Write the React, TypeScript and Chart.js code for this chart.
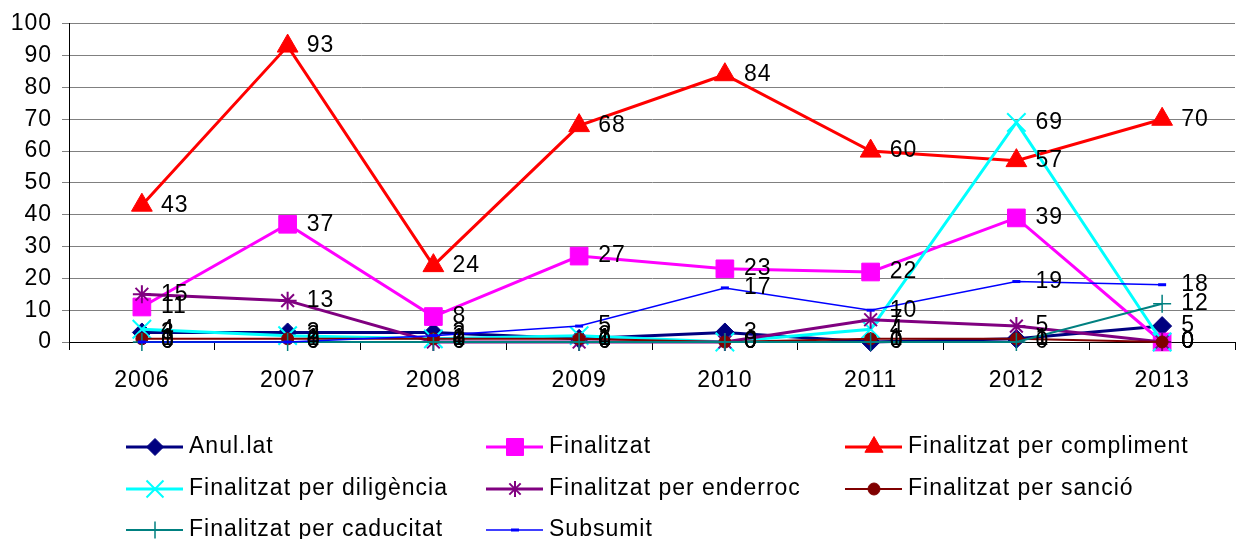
import React, { useEffect, useRef } from 'react';
import { Chart, registerables } from 'chart.js';
import { drawPoint } from 'chart.js/helpers';

Chart.register(...registerables);

const years = ['2006', '2007', '2008', '2009', '2010', '2011', '2012', '2013'];
const yTicks = [0, 10, 20, 30, 40, 50, 60, 70, 80, 90, 100];

const anulLat = [3, 3, 3, 1, 3, 0, 1, 5];
const finalitzat = [11, 37, 8, 27, 23, 22, 39, 0];
const compliment = [43, 93, 24, 68, 84, 60, 57, 70];
const diligencia = [4, 2, 1, 2, 0, 4, 69, 0];
const enderroc = [15, 13, 0, 0, 0, 7, 5, 0];
const sancio = [1, 1, 1, 1, 0, 1, 1, 0];
const caducitat = [0, 0, 0, 0, 0, 0, 0, 12];
const subsumit = [0, 0, 2, 5, 17, 10, 19, 18];

const seriesNames = [
  'Anul.lat',
  'Finalitzat',
  'Finalitzat per compliment',
  'Finalitzat per diligència',
  'Finalitzat per enderroc',
  'Finalitzat per sanció',
  'Finalitzat per caducitat',
  'Subsumit',
];

const FONT = '"Liberation Sans", Arial, sans-serif';
const FSIZE = 23;
const SPACING = '1px';

const styles = [
  { color: '#000080', width: 3, style: 'rectRot', r: 9.5, lr: 8.5, bw: 1 },
  { color: '#FF00FF', width: 3, style: 'rect', r: 12.5, lr: 12, bw: 1 },
  { color: '#FF0000', width: 3, style: 'triangle', r: 12, lr: 10.5, bw: 1 },
  { color: '#00FFFF', width: 3, style: 'crossRot', r: 13, lr: 12, bw: 2 },
  { color: '#800080', width: 3, style: 'star', r: 9, lr: 8, bw: 2 },
  { color: '#800000', width: 2, style: 'circle', r: 6, lr: 6, bw: 1 },
  { color: '#008080', width: 2, style: 'cross', r: 9, lr: 8.5, bw: 1.5 },
  { color: '#0000FF', width: 1.5, style: 'line', r: 4, lr: 4, bw: 3 },
];

const seriesData = [anulLat, finalitzat, compliment, diligencia, enderroc, sancio, caducitat, subsumit];

const legendCols = [126, 486, 845];
const legendRows = [447, 489, 530];

const spacingPlugin = {
  id: 'spacing',
  beforeLayout(chart: any) {
    chart.ctx.letterSpacing = SPACING;
  },
  beforeDraw(chart: any) {
    chart.ctx.letterSpacing = SPACING;
  },
};

const labelPlugin = {
  id: 'valueLabels',
  afterDatasetsDraw(chart: any) {
    const ctx = chart.ctx;
    ctx.save();
    ctx.letterSpacing = SPACING;
    ctx.font = `${FSIZE}px ${FONT}`;
    ctx.fillStyle = '#000';
    ctx.textAlign = 'left';
    ctx.textBaseline = 'middle';
    chart.data.datasets.forEach((ds: any, i: number) => {
      const meta = chart.getDatasetMeta(i);
      meta.data.forEach((pt: any, j: number) => {
        ctx.fillText(String(ds.data[j]), pt.x + 19, pt.y);
      });
    });
    ctx.restore();
  },
};

const legendPlugin = {
  id: 'gridLegend',
  afterDraw(chart: any) {
    const ctx = chart.ctx;
    ctx.save();
    ctx.letterSpacing = SPACING;
    chart.data.datasets.forEach((ds: any, i: number) => {
      const col = i % 3;
      const row = Math.floor(i / 3);
      const x = legendCols[col];
      const y = legendRows[row];
      const st = styles[i];
      ctx.strokeStyle = st.color;
      ctx.lineWidth = st.width;
      ctx.beginPath();
      ctx.moveTo(x, y);
      ctx.lineTo(x + 57, y);
      ctx.stroke();
      ctx.fillStyle = st.color;
      ctx.strokeStyle = st.color;
      ctx.lineWidth = st.bw;
      drawPoint(ctx, { pointStyle: st.style, radius: st.lr, rotation: 0, borderWidth: st.bw } as any, x + 29, y);
      ctx.fillStyle = '#000';
      ctx.font = `${FSIZE}px ${FONT}`;
      ctx.textAlign = 'left';
      ctx.textBaseline = 'middle';
      ctx.fillText(ds.label, x + 63, y);
    });
    ctx.restore();
  },
};

export default function App() {
  const ref = useRef<HTMLCanvasElement>(null);
  useEffect(() => {
    document.body.style.margin = '0';
    const chart = new Chart(ref.current!, {
      type: 'line',
      data: {
        labels: years,
        datasets: seriesData.map((d, i) => ({
          label: seriesNames[i],
          data: d,
          borderColor: styles[i].color,
          backgroundColor: styles[i].color,
          borderWidth: styles[i].width,
          pointStyle: styles[i].style as any,
          pointRadius: styles[i].r,
          pointBorderWidth: styles[i].bw,
          pointBackgroundColor: styles[i].color,
          pointBorderColor: styles[i].color,
          tension: 0,
          clip: false,
          order: 7 - i,
        })),
      },
      options: {
        animation: false,
        responsive: false,
        layout: { autoPadding: false, padding: { left: 0, right: 3, top: 23, bottom: 137 } },
        plugins: {
          legend: { display: false },
          tooltip: { enabled: false },
        },
        scales: {
          x: {
            offset: true,
            afterFit: (scale: any) => {
              scale.paddingLeft = 0;
              scale.paddingRight = 0;
              scale.height = 60;
            },
            grid: {
              display: true,
              offset: true,
              drawOnChartArea: false,
              drawTicks: true,
              tickLength: 8,
              color: '#000',
            },
            border: { display: true, color: '#000', width: 1 },
            ticks: { color: '#000', font: { family: FONT, size: FSIZE }, padding: 17, maxRotation: 0 },
          },
          y: {
            min: 0,
            max: 100,
            afterBuildTicks: (scale: any) => {
              scale.ticks = yTicks.map((v) => ({ value: v }));
            },
            afterFit: (scale: any) => {
              scale.width = 69;
            },
            grid: { color: '#808080', lineWidth: 1, tickLength: 7, drawTicks: true },
            border: { display: true, color: '#000', width: 1 },
            ticks: { color: '#000', font: { family: FONT, size: FSIZE }, padding: 10 },
          },
        },
      },
      plugins: [spacingPlugin, labelPlugin, legendPlugin],
    });
    return () => chart.destroy();
  }, []);
  return (
    <div style={{ width: 1238, height: 539 }}>
      <canvas ref={ref} width={1238} height={539} style={{ display: 'block' }} />
    </div>
  );
}
